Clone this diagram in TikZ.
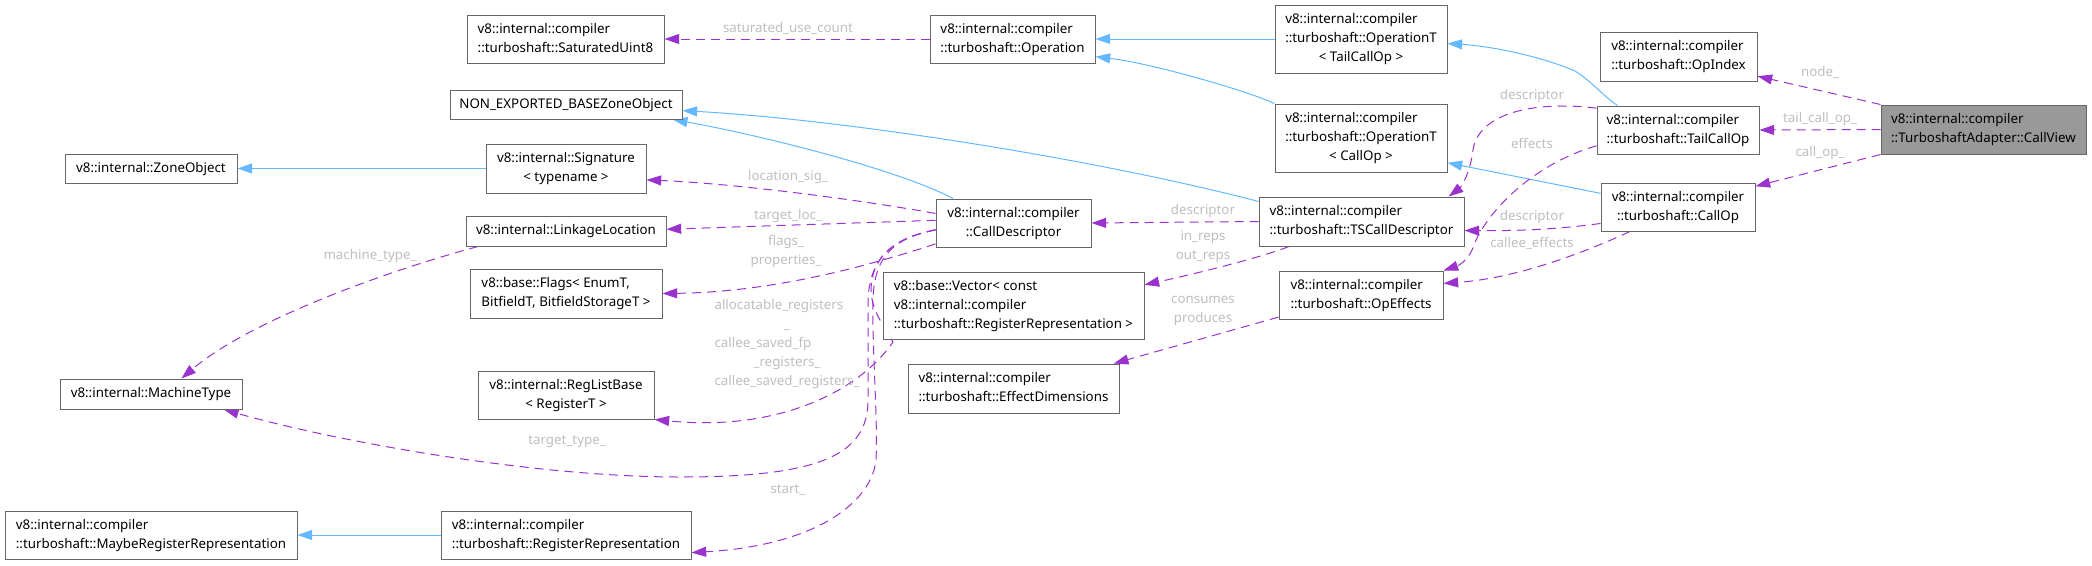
\documentclass[tikz,border=0pt]{standalone}
\usepackage{fontspec}
\setmainfont{Noto Sans}
\usepackage{xcolor}
\usepackage{tikz}
\usetikzlibrary{arrows.meta,backgrounds}

\definecolor{edgeblue}{HTML}{63B8FF}
\definecolor{edgepurple}{HTML}{9A32CD}
\definecolor{boxgray}{HTML}{666666}
\definecolor{labelgray}{HTML}{BEBEBE}
\definecolor{selfill}{HTML}{999999}

% left-aligned lines, \ctr for a centred one
\newcommand{\lines}[1]{\begin{tabular}{@{}l@{}}#1\end{tabular}}
\newcommand{\ctr}[1]{\multicolumn{1}{@{}c@{}}{#1}}

\begin{document}
\begin{tikzpicture}[
    x=0.75pt, y=-0.75pt,
    every node/.style={font=\fontsize{10}{14.25}\selectfont},
    cls/.style={draw=boxgray, fill=white, line width=0.75pt, inner sep=0pt},
    sz/.style 2 args={minimum width=0.75pt*#1, minimum height=0.75pt*#2},
    self/.style={cls, fill=selfill},
    inh/.style={draw=edgeblue, line width=0.75pt,
                -{Triangle[length=11pt, width=7.5pt]}},
    use/.style={draw=edgepurple, line width=0.75pt,
                dash pattern=on 6.75pt off 4.5pt,
                -{Triangle[length=11pt, width=7.5pt]}},
    lbl/.style={text=labelgray, align=center, inner sep=0pt}
]
\useasboundingbox (0,0) rectangle (2092,565);

% ── left column ──
\node[cls, sz={172}{29}] (zoneobj) at (151,168.5) {\lines{v8::internal::ZoneObject}};
\node[cls, sz={182}{30}] (machtype) at (151,394) {\lines{v8::internal::MachineType}};
\node[cls, sz={292}{48}] (maybereg) at (151,535) {\lines{v8::internal::compiler\\::turboshaft::MaybeRegisterRepresentation}};

% ── second column ──
\node[cls, sz={197}{48}] (satuint) at (565.5,39) {\lines{v8::internal::compiler\\::turboshaft::SaturatedUint8}};
\node[cls, sz={232}{29}] (nonexp) at (566,104.5) {\lines{NON\_EXPORTED\_BASEZoneObject}};
\node[cls, sz={160}{49}] (signature) at (566,168.5) {\lines{v8::internal::Signature\\\ctr{< typename >}}};
\node[cls, sz={200}{30}] (linkloc) at (566,231) {\lines{v8::internal::LinkageLocation}};
\node[cls, sz={192}{49}] (flags) at (566,293.5) {\lines{v8::base::Flags< EnumT,\\\ctr{BitfieldT, BitfieldStorageT >}}};
\node[cls, sz={176}{48}] (reglist) at (566,395) {\lines{v8::internal::RegListBase\\\ctr{< RegisterT >}}};
\node[cls, sz={250}{48}] (regrep) at (566,535) {\lines{v8::internal::compiler\\::turboshaft::RegisterRepresentation}};

% ── third column ──
\node[cls, sz={165}{48}] (operation) at (1012.5,39) {\lines{v8::internal::compiler\\::turboshaft::Operation}};
\node[cls, sz={155}{48}] (calldesc) at (1013.5,223) {\lines{v8::internal::compiler\\\ctr{::CallDescriptor}}};
\node[cls, sz={261}{67}] (vector) at (1013.5,305.5) {\lines{v8::base::Vector< const\\v8::internal::compiler\\::turboshaft::RegisterRepresentation >}};
\node[cls, sz={211}{49}] (effdim) at (1013.5,388.5) {\lines{v8::internal::compiler\\::turboshaft::EffectDimensions}};

% ── fourth column ──
\node[cls, sz={172}{68}] (optail) at (1361,39) {\lines{v8::internal::compiler\\::turboshaft::OperationT\\\ctr{< TailCallOp >}}};
\node[cls, sz={172}{68}] (opcall) at (1361,138) {\lines{v8::internal::compiler\\::turboshaft::OperationT\\\ctr{< CallOp >}}};
\node[cls, sz={205}{49}] (tscall) at (1361.5,221.5) {\lines{v8::internal::compiler\\::turboshaft::TSCallDescriptor}};
\node[cls, sz={164}{48}] (opeff) at (1361,295) {\lines{v8::internal::compiler\\::turboshaft::OpEffects}};

% ── fifth column and the class itself ──
\node[cls, sz={157}{49}] (opindex) at (1678.5,56.5) {\lines{v8::internal::compiler\\::turboshaft::OpIndex}};
\node[cls, sz={162}{48}] (tailcall) at (1678,130) {\lines{v8::internal::compiler\\::turboshaft::TailCallOp}};
\node[cls, sz={154}{48}] (callop) at (1678,207) {\lines{v8::internal::compiler\\\ctr{::turboshaft::CallOp}}};
\node[self, sz={205}{49}] (callview) at (1983.5,129.5) {\lines{v8::internal::compiler\\::TurboshaftAdapter::CallView}};

\begin{scope}[on background layer]
% ── inheritance ──
\draw[inh] (signature.west) -- (zoneobj.east);
\draw[inh] (regrep.west) -- (maybereg.east);
\draw[inh] (optail.west) -- (operation.east);
\draw[inh] (opcall.north west) .. controls (1245,90) and (1150,63) .. (operation.-12);
\draw[inh] (calldesc.158) .. controls (900,170) and (760,135) .. (nonexp.-8);
\draw[inh] (tscall.169) .. controls (1100,160) and (850,120) .. (nonexp.-3);
\draw[inh] (tailcall.158) .. controls (1600,93) and (1590,80) .. (1575,71)
    .. controls (1540,56) and (1490,46) .. (optail.-3);
\draw[inh] (callop.170) -- (opcall.-16);

% ── usage ──
\draw[use] (operation.west) -- (satuint.east);
\draw[use] (callview.north west) -- (opindex.-14);
\draw[use] (callview.west) -- (tailcall.east);
\draw[use] (callview.south west) -- (callop.15);
\draw[use] (tailcall.165) .. controls (1530,100) and (1478,115) .. (1473,150)
    .. controls (1470,175) and (1460,188) .. (tscall.16);
\draw[use] (tailcall.191) .. controls (1530,165) and (1485,215) .. (1474,245)
    .. controls (1470,258) and (1460,265) .. (opeff.north east);
\draw[use] (callop.-168) .. controls (1560,229) and (1520,231) .. (tscall.-5);
\draw[use] (callop.-153) .. controls (1590,250) and (1520,278) .. (opeff.8);
\draw[use] (tscall.west) -- (calldesc.east);
\draw[use] (tscall.-161) .. controls (1260,258) and (1190,275) .. (vector.9);
\draw[use] (opeff.-165) -- (effdim.14);
\draw[use] (calldesc.173) .. controls (860,200) and (740,184) .. (signature.-8);
\draw[use] (calldesc.178) -- (linkloc.1);
\draw[use] (calldesc.-165) .. controls (880,262) and (780,292) .. (flags.east);
\draw[use] (calldesc.-175) .. controls (895,238) and (872,255) .. (871,290)
    .. controls (872,310) and (880,320) .. (893,342)
    .. controls (860,390) and (780,432) .. (reglist.south east);
\draw[use] (calldesc.-175) .. controls (895,238) and (870,255) .. (868,300) -- (868,400)
    .. controls (868,455) and (820,477) .. (680,477)
    .. controls (530,477) and (330,440) .. (machtype.-12);
\draw[use] (calldesc.-175) .. controls (895,238) and (874,255) .. (873,300)
    .. controls (872,350) and (878,420) .. (876,460)
    .. controls (872,500) and (820,545) .. (regrep.-8);
\draw[use] (linkloc.-170) .. controls (390,270) and (250,320) .. (machtype.27);
\end{scope}

% ── member labels ──
\node[lbl] (l-satuse) at (788,28) {saturated\_use\_count};
\node[lbl] (l-node) at (1820,72) {node\_};
\node[lbl] (l-tailop) at (1820,119) {tail\_call\_op\_};
\node[lbl] (l-callop) at (1820,153) {call\_op\_};
\node[lbl] (l-desc1) at (1532,96) {descriptor};
\node[lbl] (l-effects) at (1532,143) {effects};
\node[lbl] (l-desc2) at (1532,217) {descriptor};
\node[lbl] (l-calleeeff) at (1532,243) {callee\_effects};
\node[lbl] (l-desc3) at (1203,211) {descriptor};
\node[lbl] (l-reps) at (1203,246.5) {in\_reps\\out\_reps};
\node[lbl] (l-consumes) at (1203,310.5) {consumes\\produces};
\node[lbl] (l-locsig) at (788,177) {location\_sig\_};
\node[lbl] (l-targetloc) at (788,216) {target\_loc\_};
\node[lbl] (l-flags) at (786,251.5) {flags\_\\properties\_};
\node[lbl] (l-regs) at (787,344) {\lines{allocatable\_registers\\\ctr{\_}\\callee\_saved\_fp\\\ctr{\_registers\_}\\callee\_saved\_registers\_}};
\node[lbl] (l-targettype) at (567,442) {target\_type\_};
\node[lbl] (l-start) at (788,490) {start\_};
\node[lbl] (l-machtype) at (370,256) {machine\_type\_};
\end{tikzpicture}
\end{document}
